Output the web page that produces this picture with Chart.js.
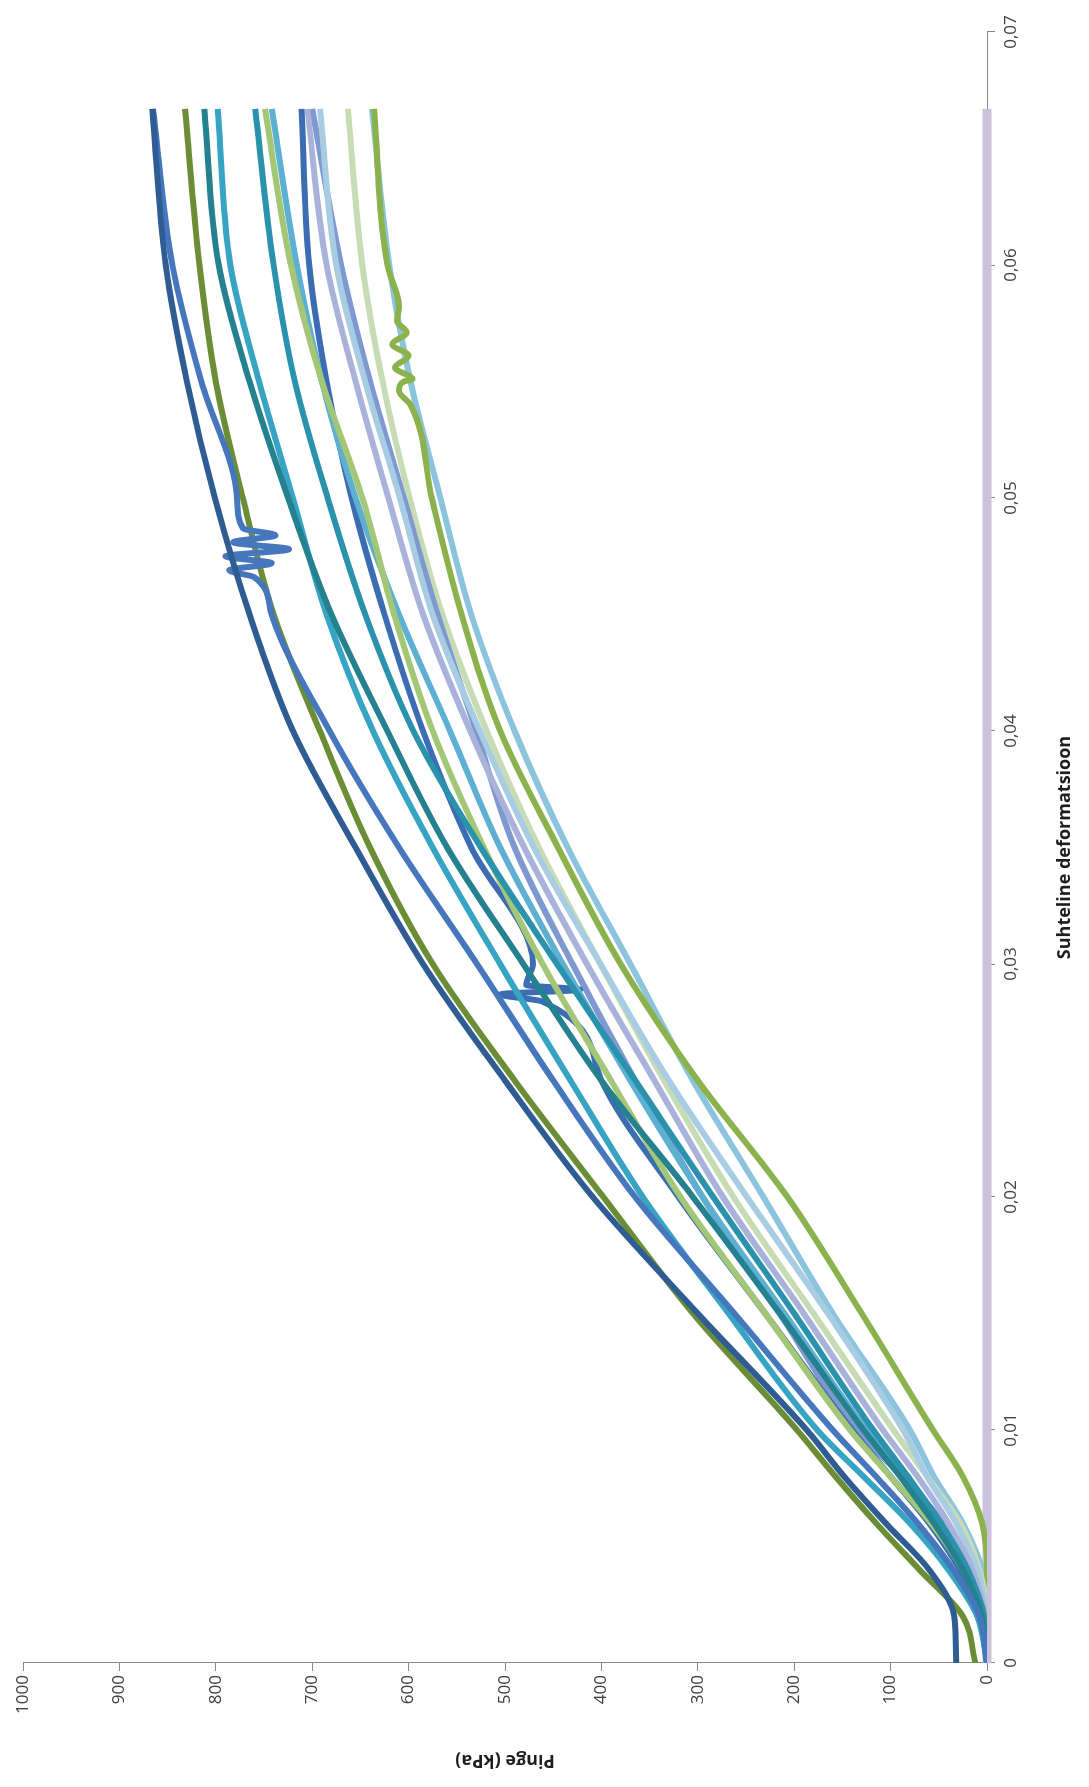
<!DOCTYPE html>
<html>
<head>
<meta charset="utf-8">
<script src="https://cdn.jsdelivr.net/npm/chart.js@4.4.0/dist/chart.umd.min.js"></script>
<style>
  body { margin: 0; background: #fff; overflow: hidden; }
  /* chart is drawn landscape, then turned a quarter left like the scan */
  #wrap {
    position: absolute; left: 0; top: 0;
    width: 1787px; height: 1089px;
    transform-origin: 0 0;
    transform: translate(0, 1787px) rotate(-90deg);
  }
</style>
</head>
<body>
<div id="wrap"><canvas id="chart" width="1787" height="1089"></canvas></div>
<script>
const strain = [0, 0.002, 0.004, 0.006, 0.008, 0.01, 0.015, 0.02, 0.025, 0.03, 0.035, 0.04, 0.045, 0.05, 0.055, 0.06, 0.0667];

// stress, kPa
const navy        = [32, 34, 60, 105, 148, 187, 300, 409, 500, 585, 655, 720, 765, 801, 830, 852, 866];
const medBlue     = [0, 8, 35, 72, 115, 160, 262, 365, 450, 529, 610, 682, 742, 778, 815, 845, 865];
const olive       = [12, 25, 70, 115, 157, 197, 305, 398, 490, 575, 640, 692, 740, 772, 800, 817, 832];
const darkTeal    = [0, 5, 25, 55, 90, 128, 215, 305, 400, 481, 560, 622, 680, 725, 765, 797, 812];
const lightTeal   = [0, 10, 40, 80, 128, 176, 268, 357, 432, 505, 575, 637, 685, 720, 755, 785, 798];
const teal        = [0, 3, 20, 48, 82, 118, 200, 284, 365, 446, 525, 595, 645, 684, 718, 740, 759];
const lightGreen  = [0, 5, 25, 58, 100, 142, 230, 318, 390, 461, 522, 575, 615, 648, 690, 722, 749];
const skyBlue     = [0, 4, 20, 48, 85, 125, 210, 295, 370, 440, 505, 557, 610, 655, 690, 716, 742];
const blue        = [0, 5, 28, 60, 100, 140, 230, 320, 400, 471, 535, 585, 625, 659, 685, 703, 711];
const lavender    = [0, 2, 15, 40, 72, 108, 190, 274, 345, 415, 480, 536, 585, 621, 655, 685, 705];
const paleBlue    = [0, 1, 10, 32, 62, 87, 165, 249, 330, 401, 470, 526, 575, 609, 645, 675, 692];
const periwinkle  = [0, 3, 18, 45, 88, 135, 215, 295, 365, 430, 490, 530, 570, 605, 640, 670, 700];
const paleGreen   = [0, 0, 8, 28, 62, 97, 180, 263, 335, 401, 465, 519, 565, 599, 627, 648, 663];
const yellowGreen = [0, 0, 0, 5, 25, 56, 130, 207, 300, 380, 445, 505, 545, 576, 605, 622, 636];
const lightBlue   = [0, 0, 5, 25, 55, 80, 160, 232, 305, 370, 435, 490, 535, 567, 598, 620, 638];
const flat        = [0, 0, 0, 0, 0, 0, 0, 0, 0, 0, 0, 0, 0, 0, 0, 0, 0];

// glitches in the recordings
const medBlueSpikeX = [0.0466, 0.0469, 0.0472, 0.0475, 0.0478, 0.0481, 0.0484, 0.0487];
const medBlueSpikeY = [760, 786, 742, 790, 724, 782, 738, 772];
const blueSpikeX = [0.0284, 0.0287, 0.0289, 0.0291];
const blueSpikeY = [462, 505, 422, 478];
const yellowGreenNoiseX = [0.054, 0.0546, 0.0551, 0.0556, 0.0561, 0.0566, 0.0571, 0.0576, 0.0582];
const yellowGreenNoiseY = [598, 610, 596, 614, 600, 617, 602, 612, 610];

const xTicks = [0, 0.01, 0.02, 0.03, 0.04, 0.05, 0.06, 0.07];

function points(vals, extraX, extraY) {
    const pts = strain.map((s, i) => ({ x: s, y: vals[i] }));
    if (extraX) {
        extraX.forEach((s, i) => pts.push({ x: s, y: extraY[i] }));
        pts.sort((a, b) => a.x - b.x);
    }
    return pts;
}

function line(label, pts, color, width) {
    return {
        label: label,
        data: pts,
        borderColor: color,
        backgroundColor: color,
        borderWidth: width || 6,
        pointRadius: 0,
        cubicInterpolationMode: "monotone",
        fill: false
    };
}

const datasets = [
    line("1", points(navy), "#2f5c93"),
    line("2", points(medBlue, medBlueSpikeX, medBlueSpikeY), "#4677bd"),
    line("3", points(olive), "#6b8d36"),
    line("4", points(darkTeal), "#25818f"),
    line("5", points(lightTeal), "#36a4c2"),
    line("6", points(teal), "#2a92ad"),
    line("7", points(lightGreen), "#a4c777"),
    line("8", points(skyBlue), "#5eb0d3"),
    line("9", points(blue, blueSpikeX, blueSpikeY), "#3c6cb1"),
    line("10", points(lavender), "#a9b2da"),
    line("11", points(paleBlue), "#a8cde3"),
    line("12", points(periwinkle), "#7e98d0"),
    line("13", points(paleGreen), "#c7dcb5"),
    line("14", points(yellowGreen, yellowGreenNoiseX, yellowGreenNoiseY), "#8cb24e"),
    line("15", points(lightBlue), "#8cc4dd"),
    Object.assign(line("16", points(flat), "#c8c2da", 9), { clip: false })
];

const axisColor = "#878787";
const tickFont = { family: "'Open Sans', sans-serif", size: 17 };
const titleFont = { family: "'Open Sans', sans-serif", size: 18, weight: "bold" };

new Chart(document.getElementById("chart"), {
    type: "line",
    data: { datasets: datasets },
    options: {
        responsive: false,
        devicePixelRatio: 1,
        animation: false,
        layout: { padding: { top: 23, right: 32, left: 0, bottom: 0 } },
        plugins: { legend: { display: false }, tooltip: { enabled: false } },
        scales: {
            x: {
                type: "linear",
                min: 0,
                max: 0.07,
                afterBuildTicks: s => { s.ticks = xTicks.map(v => ({ value: v })); },
                afterFit: s => { s.height = 102; },
                ticks: {
                    autoSkip: false,
                    maxRotation: 0,
                    padding: 6,
                    color: "#404040",
                    font: tickFont,
                    callback: v => v === 0 ? "0" : v.toFixed(2).replace(".", ",")
                },
                grid: { drawOnChartArea: false, tickLength: 8, color: axisColor },
                border: { color: axisColor },
                title: {
                    display: true,
                    text: "Suhteline deformatsioon",
                    color: "#1e1e1e",
                    font: titleFont,
                    padding: { top: 0, bottom: 13 }
                }
            },
            y: {
                min: 0,
                max: 1000,
                afterFit: s => { s.width = 124; },
                ticks: {
                    stepSize: 100,
                    padding: 4,
                    color: "#404040",
                    font: tickFont,
                    callback: v => String(v)
                },
                grid: { drawOnChartArea: false, tickLength: 8, color: axisColor },
                border: { color: axisColor },
                title: {
                    display: true,
                    text: "Pinge (kPa)",
                    color: "#1e1e1e",
                    font: titleFont,
                    padding: { top: 16, bottom: 0 }
                }
            }
        }
    }
});
</script>
</body>
</html>
